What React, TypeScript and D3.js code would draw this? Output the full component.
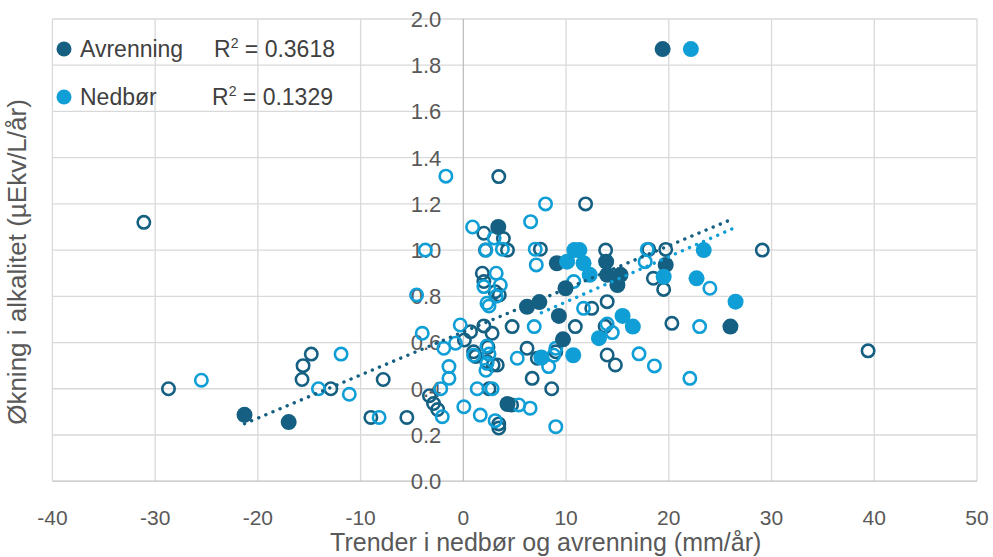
import React from "react";
import * as d3 from "d3";

// ---- data ----
const xTicks = [-40, -30, -20, -10, 0, 10, 20, 30, 40, 50];
const yTicks = [0, 0.2, 0.4, 0.6, 0.8, 1.0, 1.2, 1.4, 1.6, 1.8, 2.0];

const seriesNames = ["Avrenning", "Nedbør"];
const r2Labels = ["0.3618", "0.1329"];

// Avrenning, highlighted (filled) points
const avrFilledX = [19.4, -21.3, -17.0, 3.4, 9.1, 9.95, 6.2, 7.4, 9.3, 9.7, 4.3, 13.9, 14.0, 15.3, 15.0, 19.7, 26.0];
const avrFilledY = [1.87, 0.287, 0.256, 1.10, 0.943, 0.835, 0.755, 0.775, 0.715, 0.614, 0.334, 0.95, 0.893, 0.893, 0.849, 0.936, 0.669];

// Nedbør, highlighted (filled) points
const nedFilledX = [22.15, 10.1, 10.8, 11.3, 11.7, 12.3, 19.5, 22.7, 23.4, 26.5, 15.5, 16.5, 13.2, 10.7, 7.6];
const nedFilledY = [1.87, 0.95, 1.0, 1.0, 0.943, 0.893, 0.885, 0.878, 1.0, 0.777, 0.715, 0.669, 0.619, 0.545, 0.535];

// Avrenning, other (open) points
const avrOpenX = [-31.1, -28.7, -15.7, -15.6, -14.8, -12.9, -7.8, -9.0, -5.5, -3.3, -2.9, -2.5, 3.45, 11.9, 2.0, 3.9, 2.15, 4.3, 7.5, 1.85, 2.0, 3.1, 3.5, 13.85, 14.0, 12.5, 10.9, 4.75, 2.0, 0.7, 0.1, 1.0, 1.2, 2.8, 2.4, 3.3, 2.9, 6.2, 7.2, 9.0, 6.7, 8.6, 2.5, 4.7, 3.45, 3.45, 14.0, 14.8, 13.8, 18.05, 19.7, 18.5, 19.5, 29.1, 20.3, 39.4, 2.3];
const avrOpenY = [1.12, 0.40, 0.44, 0.50, 0.55, 0.40, 0.44, 0.276, 0.276, 0.37, 0.336, 0.31, 1.318, 1.20, 1.073, 1.05, 1.0, 1.0, 1.004, 0.90, 0.864, 0.82, 0.806, 1.0, 0.777, 0.748, 0.669, 0.669, 0.672, 0.647, 0.611, 0.56, 0.54, 0.64, 0.58, 0.503, 0.503, 0.575, 0.532, 0.56, 0.445, 0.40, 0.40, 0.33, 0.248, 0.23, 0.546, 0.503, 0.67, 1.003, 1.003, 0.878, 0.83, 1.0, 0.683, 0.564, 0.517];

// Nedbør, other (open) points
const nedOpenX = [-25.5, -14.1, -11.9, -11.1, -8.2, -4.55, -4.0, -3.7, -1.7, -1.9, -0.76, -1.4, -1.4, -2.2, -2.05, -0.3, 0.05, 1.65, 1.35, 2.8, 2.3, 2.5, 2.3, 2.2, 1.0, 5.25, 6.9, 8.3, 5.4, 6.5, 9.0, 2.3, 3.2, 8.8, 0.9, 6.55, 8.0, 3.0, 3.8, 7.0, 7.1, 3.2, 3.6, 2.0, 2.5, 9.0, 14.5, 14.0, 11.7, 10.75, 3.1, 17.9, 17.7, 24.0, 23.0, 17.1, 18.6, 22.05, 2.2];
const nedOpenY = [0.437, 0.40, 0.55, 0.376, 0.276, 0.806, 0.64, 1.0, 1.32, 0.575, 0.597, 0.496, 0.445, 0.40, 0.279, 0.676, 0.322, 0.286, 0.40, 0.40, 0.585, 0.55, 0.51, 0.48, 0.545, 0.532, 0.669, 0.496, 0.33, 0.316, 0.236, 0.77, 0.80, 0.545, 1.10, 1.123, 1.20, 1.052, 1.004, 1.004, 0.936, 0.90, 0.849, 0.842, 0.758, 0.575, 0.643, 0.68, 0.748, 0.864, 0.262, 1.003, 0.95, 0.835, 0.669, 0.551, 0.499, 0.445, 1.0];

const DARK = "#156082";
const LIGHT = "#0F9ED5";
const FONT = "'Liberation Sans', Arial, sans-serif";

function zip(xs: number[], ys: number[]) {
  return xs.map((x, i) => [x, ys[i]] as [number, number]);
}

function linReg(pts: [number, number][]) {
  const mx = d3.mean(pts, (p) => p[0])!;
  const my = d3.mean(pts, (p) => p[1])!;
  let sxy = 0, sxx = 0;
  pts.forEach(([x, y]) => { sxy += (x - mx) * (y - my); sxx += (x - mx) * (x - mx); });
  const b = sxy / sxx;
  const a = my - b * mx;
  const [x0, x1] = d3.extent(pts, (p) => p[0]) as [number, number];
  return [[x0, a + b * x0], [x1, a + b * x1]] as [number, number][];
}

export default function App() {
  const W = 993, H = 557;
  const x = d3.scaleLinear().domain([-40, 50]).range([52.4, 977]);
  const y = d3.scaleLinear().domain([0, 2]).range([481.2, 19]);

  const avrOpen = zip(avrOpenX, avrOpenY);
  const nedOpen = zip(nedOpenX, nedOpenY);
  const avrFilled = zip(avrFilledX, avrFilledY);
  const nedFilled = zip(nedFilledX, nedFilledY);

  const line = d3.line<[number, number]>().x((d) => x(d[0])).y((d) => y(d[1]));
  const avrTrend = linReg(avrFilled);
  const nedTrend = linReg(nedFilled);

  const gridColor = "#d9d9d9";
  const textColor = "#595959";

  return (
    <svg width={W} height={H} style={{ position: "absolute", left: 0, top: 0, background: "#fff" }} fontFamily={FONT}>
      {/* grid */}
      {xTicks.filter((t) => t !== 0).map((t) => (
        <line key={"gx" + t} x1={x(t)} x2={x(t)} y1={y(2)} y2={y(0)} stroke={gridColor} strokeWidth={1.3} />
      ))}
      {yTicks.filter((t) => t !== 0).map((t) => (
        <line key={"gy" + t} x1={x(-40)} x2={x(50)} y1={y(t)} y2={y(t)} stroke={gridColor} strokeWidth={1.3} />
      ))}
      {/* axes */}
      <line x1={x(0)} x2={x(0)} y1={y(2)} y2={y(0)} stroke="#bfbfbf" strokeWidth={1.3} />
      <line x1={x(-40)} x2={x(50)} y1={y(0)} y2={y(0)} stroke="#bfbfbf" strokeWidth={1.3} />

      {/* y tick labels next to axis */}
      {yTicks.map((t) => (
        <text key={"yl" + t} x={x(0) - 22} y={y(t)} dy="0.36em" textAnchor="end" fontSize={22} fill={textColor}>
          {d3.format(".1f")(t)}
        </text>
      ))}
      {/* x tick labels */}
      {xTicks.map((t) => (
        <text key={"xl" + t} x={x(t)} y={525} textAnchor="middle" fontSize={21} fill={textColor}>
          {t}
        </text>
      ))}

      {/* axis titles */}
      <text x={(x(-40) + x(50)) / 2 + 31} y={551} textAnchor="middle" fontSize={25} fill={textColor}>
        Trender i nedbør og avrenning (mm/år)
      </text>
      <text transform={`translate(26,262) rotate(-90)`} textAnchor="middle" fontSize={26} fill={textColor}>
        Økning i alkalitet (µEkv/L/år)
      </text>

      {/* open markers */}
      {avrOpen.map((d, i) => (
        <circle key={"ao" + i} cx={x(d[0])} cy={y(d[1])} r={6.2} fill="none" stroke={DARK} strokeWidth={2.6} />
      ))}
      {nedOpen.map((d, i) => (
        <circle key={"no" + i} cx={x(d[0])} cy={y(d[1])} r={6.2} fill="none" stroke={LIGHT} strokeWidth={2.6} />
      ))}
      {/* filled markers */}
      {avrFilled.map((d, i) => (
        <circle key={"af" + i} cx={x(d[0])} cy={y(d[1])} r={8} fill={DARK} />
      ))}
      {nedFilled.map((d, i) => (
        <circle key={"nf" + i} cx={x(d[0])} cy={y(d[1])} r={8} fill={LIGHT} />
      ))}

      {/* trendlines */}
      <path d={line(avrTrend)!} fill="none" stroke={DARK} strokeWidth={3.4} strokeDasharray="0.1 7.6" strokeLinecap="round" />
      <path d={line(nedTrend)!} fill="none" stroke={LIGHT} strokeWidth={3.4} strokeDasharray="0.1 7.6" strokeLinecap="round" />

      {/* legend */}
      {seriesNames.map((name, i) => (
        <g key={"lg" + i} transform={`translate(0,${49 + i * 48})`}>
          <circle cx={64} cy={0} r={7.5} fill={i === 0 ? DARK : LIGHT} />
          <text x={80} y={0} dy="0.36em" fontSize={23} fill="#404040">{name}</text>
          <text x={i === 0 ? 214 : 212} y={0} dy="0.36em" fontSize={23} fill="#404040">
            R<tspan fontSize={14} dy="-9">2</tspan><tspan dy="9"> = {r2Labels[i]}</tspan>
          </text>
        </g>
      ))}
    </svg>
  );
}
